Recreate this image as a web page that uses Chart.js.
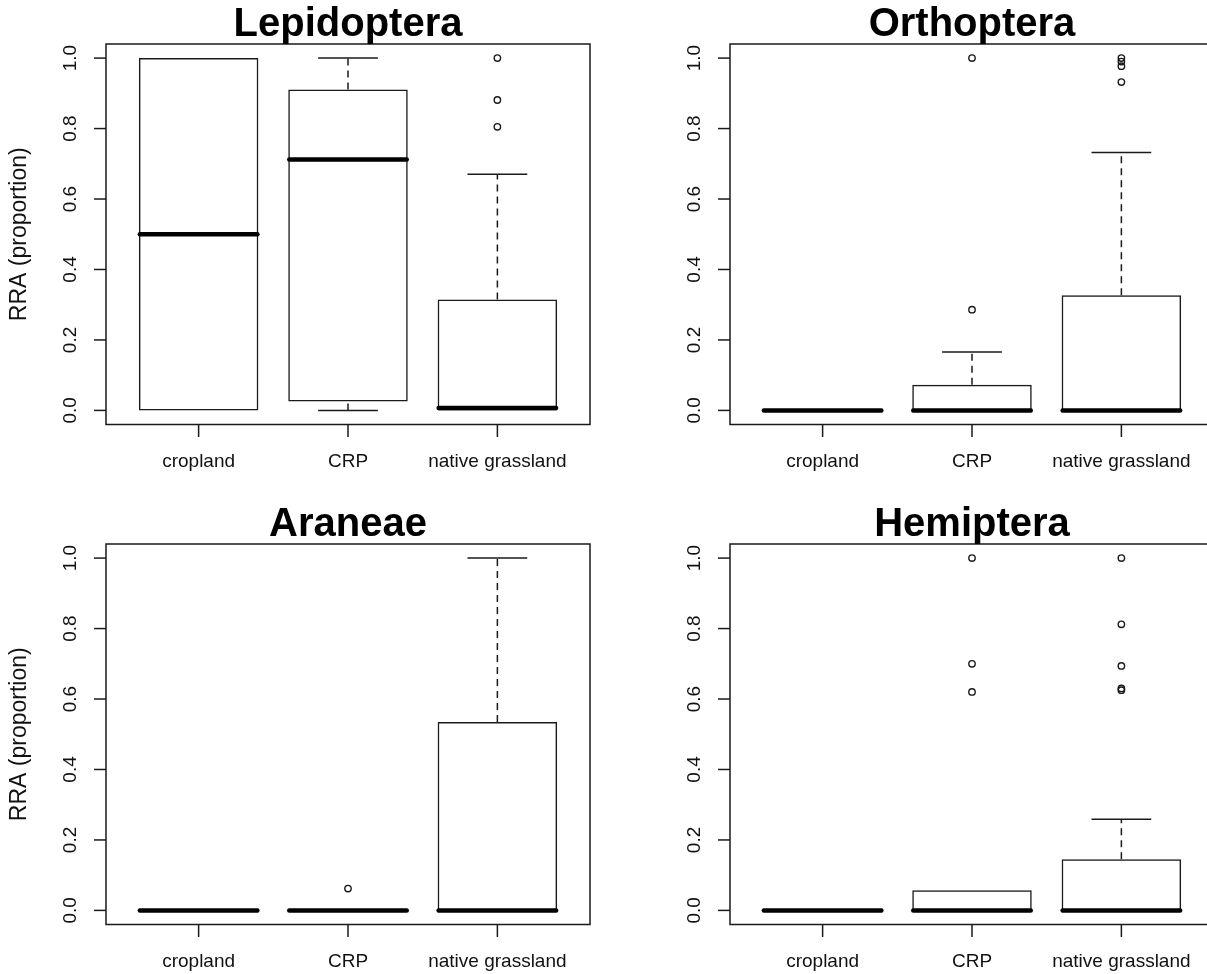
<!DOCTYPE html>
<html>
<head>
<meta charset="utf-8">
<title>RRA by land-cover type</title>
<script src="https://cdn.jsdelivr.net/npm/chart.js@4.4.1/dist/chart.umd.min.js"></script>
<style>
  html, body { margin: 0; padding: 0; background: #fff; overflow: hidden; width: 1207px; height: 974px; }
  .panel { position: absolute; width: 624px; height: 500px; }
  canvas { display: block; }
</style>
</head>
<body>
<div class="panel" style="left:0;top:0"><canvas id="lepidoptera" width="624" height="500"></canvas></div>
<div class="panel" style="left:624px;top:0"><canvas id="orthoptera" width="624" height="500"></canvas></div>
<div class="panel" style="left:0;top:500px"><canvas id="araneae" width="624" height="500"></canvas></div>
<div class="panel" style="left:624px;top:500px"><canvas id="hemiptera" width="624" height="500"></canvas></div>
<script>
// Groups along the x axis and the shared y axis ticks
const groups = ['cropland', 'CRP', 'native grassland'];
const yTickValues = [0, 0.2, 0.4, 0.6, 0.8, 1.0];
const yTickLabels = ['0.0', '0.2', '0.4', '0.6', '0.8', '1.0'];
const yAxisTitle = 'RRA (proportion)';

// Lepidoptera: five-number summaries per group, plus outlying points
const lepidopteraLower  = [0, 0, 0];
const lepidopteraQ1     = [0, 0.025, 0];
const lepidopteraMedian = [0.5, 0.712, 0.007];
const lepidopteraQ3     = [1.0, 0.911, 0.315];
const lepidopteraUpper  = [1.0, 1.0, 0.670];
const lepidopteraOutliers = [[], [], [1.0, 0.881, 0.805]];

// Orthoptera
const orthopteraLower  = [0, 0, 0];
const orthopteraQ1     = [0, 0, 0];
const orthopteraMedian = [0, 0, 0];
const orthopteraQ3     = [0, 0.073, 0.327];
const orthopteraUpper  = [0, 0.166, 0.732];
const orthopteraOutliers = [[], [1.0, 0.286], [1.0, 0.990, 0.977, 0.932]];

// Araneae
const araneaeLower  = [0, 0, 0];
const araneaeQ1     = [0, 0, 0];
const araneaeMedian = [0, 0, 0];
const araneaeQ3     = [0, 0, 0.535];
const araneaeUpper  = [0, 0, 1.0];
const araneaeOutliers = [[], [0.062], []];

// Hemiptera
const hemipteraLower  = [0, 0, 0];
const hemipteraQ1     = [0, 0, 0];
const hemipteraMedian = [0, 0, 0];
const hemipteraQ3     = [0, 0.057, 0.145];
const hemipteraUpper  = [0, 0.057, 0.259];
const hemipteraOutliers = [[], [1.0, 0.700, 0.620], [1.0, 0.812, 0.694, 0.630, 0.625]];

const INK = '#1a1a1a';
const FONT = '"Liberation Sans", Arial, Helvetica, sans-serif';

function segment(ctx, x1, y1, x2, y2) {
  ctx.beginPath();
  ctx.moveTo(x1, y1);
  ctx.lineTo(x2, y2);
  ctx.stroke();
}

// Whiskers, staples and medians drawn at the bar positions, in data units
const boxplotMarks = {
  id: 'boxplotMarks',
  beforeDatasetsDraw(chart, args, opts) {
    const { ctx, scales: { y } } = chart;
    const bars = chart.getDatasetMeta(0).data;
    ctx.save();
    ctx.strokeStyle = INK;
    ctx.lineWidth = 1.5;
    bars.forEach((bar, i) => {
      const cx = bar.x, half = bar.width / 2;
      const yLo = y.getPixelForValue(opts.lower[i]);
      const yQ1 = y.getPixelForValue(opts.q1[i]);
      const yQ3 = y.getPixelForValue(opts.q3[i]);
      const yHi = y.getPixelForValue(opts.upper[i]);
      // a whisker of zero length leaves its staple hidden under the box edge
      if (yQ3 - yHi > 0.5) {
        ctx.setLineDash([7, 5]);
        segment(ctx, cx, yQ3, cx, yHi);
        ctx.setLineDash([]);
        segment(ctx, cx - half / 2, yHi, cx + half / 2, yHi);
      }
      if (yLo - yQ1 > 0.5) {
        ctx.setLineDash([7, 5]);
        segment(ctx, cx, yLo, cx, yQ1);
        ctx.setLineDash([]);
        segment(ctx, cx - half / 2, yLo, cx + half / 2, yLo);
      }
    });
    ctx.restore();
  },
  afterDatasetsDraw(chart, args, opts) {
    const { ctx, scales: { y } } = chart;
    const bars = chart.getDatasetMeta(0).data;
    ctx.save();
    ctx.strokeStyle = '#000';
    ctx.lineWidth = 4.5;
    ctx.lineCap = 'round';
    bars.forEach((bar, i) => {
      const half = bar.width / 2;
      const yMed = y.getPixelForValue(opts.median[i]);
      segment(ctx, bar.x - half + 1, yMed, bar.x + half - 1, yMed);
    });
    ctx.restore();
  }
};

// Frame, ticks, tick labels and titles in the style of base graphics
const frameAndAxes = {
  id: 'frameAndAxes',
  afterDraw(chart, args, opts) {
    const { ctx, chartArea: a, scales: { x, y } } = chart;
    ctx.save();
    ctx.strokeStyle = INK;
    ctx.fillStyle = '#111';
    ctx.lineWidth = 1.5;
    ctx.strokeRect(a.left, a.top, a.right - a.left, a.bottom - a.top);

    ctx.font = '19px ' + FONT;
    ctx.textAlign = 'center';
    ctx.textBaseline = 'middle';
    yTickValues.forEach((v, i) => {
      const py = y.getPixelForValue(v);
      segment(ctx, a.left - 12, py, a.left, py);
      ctx.save();
      ctx.translate(a.left - 35, py);
      ctx.rotate(-Math.PI / 2);
      ctx.fillText(yTickLabels[i], 0, 0);
      ctx.restore();
    });
    groups.forEach((g, i) => {
      const px = x.getPixelForValue(i + 1);
      segment(ctx, px, a.bottom, px, a.bottom + 12.5);
      ctx.fillText(g, px, a.bottom + 37.5);
    });

    if (opts.yTitle) {
      ctx.save();
      ctx.font = '23px ' + FONT;
      ctx.translate(a.left - 86, (a.top + a.bottom) / 2);
      ctx.rotate(-Math.PI / 2);
      ctx.fillText(opts.yTitle, 0, 0);
      ctx.restore();
    }

    ctx.fillStyle = '#000';
    ctx.font = 'bold 40px ' + FONT;
    ctx.textBaseline = 'alphabetic';
    ctx.fillText(opts.title, (a.left + a.right) / 2, a.top - 8);
    ctx.restore();
  }
};

function makePanel(id, title, lower, q1, median, q3, upper, outliers, yTitle) {
  const boxes = groups.map((g, i) => ({ x: i + 1, y: [q1[i], q3[i]] }));
  const points = [];
  outliers.forEach((vals, i) => vals.forEach(v => points.push({ x: i + 1, y: v })));

  new Chart(document.getElementById(id), {
    type: 'bar',
    data: {
      datasets: [
        {
          type: 'bar',
          data: boxes,
          backgroundColor: 'rgba(255,255,255,0)',
          borderColor: INK,
          borderWidth: 1.5,
          borderSkipped: false,
          barPercentage: 0.8,
          categoryPercentage: 1.0
        },
        {
          type: 'scatter',
          data: points,
          pointStyle: 'circle',
          pointRadius: 3.2,
          pointBorderWidth: 1.4,
          pointBackgroundColor: 'rgba(255,255,255,0)',
          pointBorderColor: INK
        }
      ]
    },
    options: {
      responsive: false,
      animation: false,
      events: [],
      layout: { padding: { left: 106, right: 34, top: 44, bottom: 75.5 } },
      scales: {
        x: {
          type: 'linear',
          display: false,
          offset: false,
          grid: { offset: false },
          min: 0.38,
          max: 3.62,
          afterBuildTicks: (scale) => { scale.ticks = groups.map((g, i) => ({ value: i + 1 })); }
        },
        y: { type: 'linear', display: false, min: -0.04, max: 1.04 }
      },
      plugins: {
        legend: { display: false },
        tooltip: { enabled: false },
        boxplotMarks: { lower, q1, median, q3, upper },
        frameAndAxes: { title, yTitle }
      }
    },
    plugins: [boxplotMarks, frameAndAxes]
  });
}

makePanel('lepidoptera', 'Lepidoptera', lepidopteraLower, lepidopteraQ1, lepidopteraMedian,
  lepidopteraQ3, lepidopteraUpper, lepidopteraOutliers, yAxisTitle);
makePanel('orthoptera', 'Orthoptera', orthopteraLower, orthopteraQ1, orthopteraMedian,
  orthopteraQ3, orthopteraUpper, orthopteraOutliers, null);
makePanel('araneae', 'Araneae', araneaeLower, araneaeQ1, araneaeMedian,
  araneaeQ3, araneaeUpper, araneaeOutliers, yAxisTitle);
makePanel('hemiptera', 'Hemiptera', hemipteraLower, hemipteraQ1, hemipteraMedian,
  hemipteraQ3, hemipteraUpper, hemipteraOutliers, null);
</script>
</body>
</html>
